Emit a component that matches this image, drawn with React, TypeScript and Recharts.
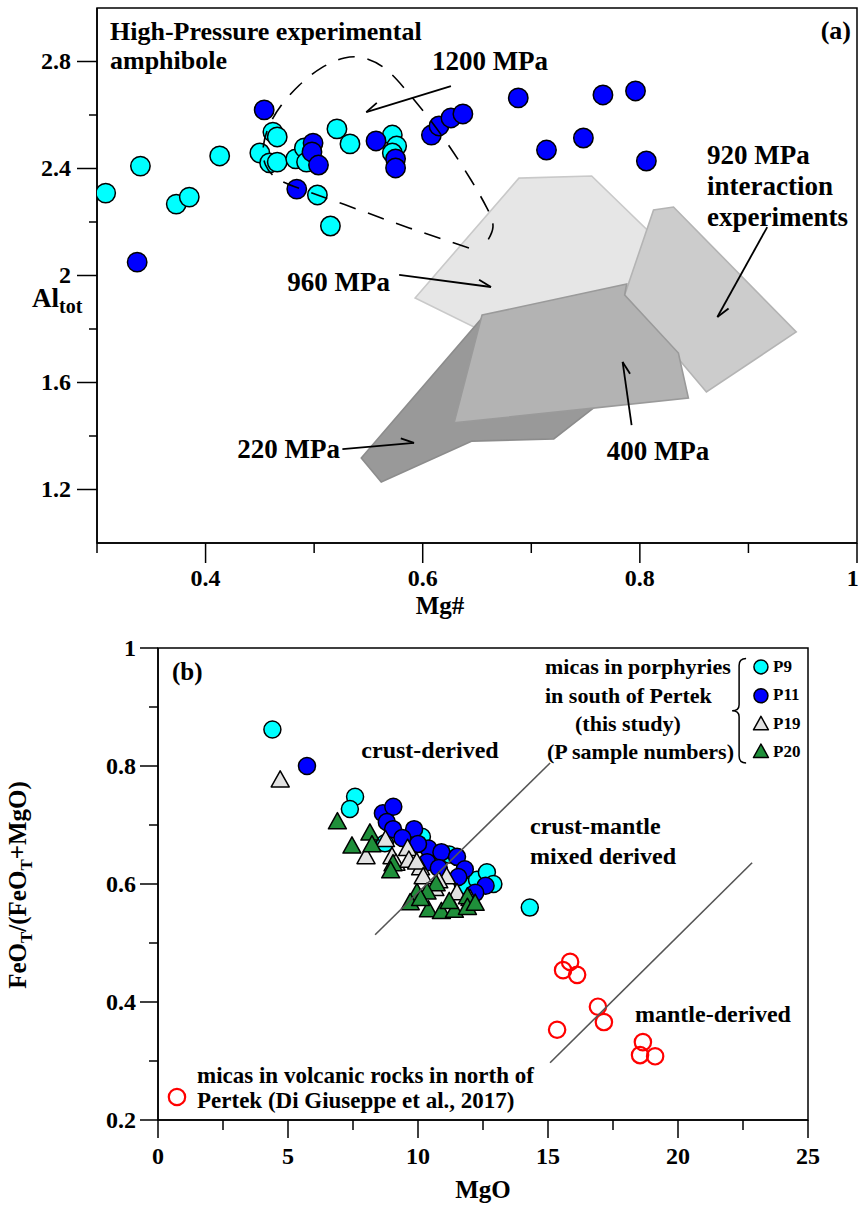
import React from 'react';
import { ScatterChart, Scatter, XAxis, YAxis, ReferenceArea } from 'recharts';

type Pair = [number, number];
const FONT = "'Liberation Serif', 'Times New Roman', serif";

// ---------------- Panel (a): Mg# vs Al_tot ----------------
const aCyan: Pair[] = [
  [0.308, 2.308], [0.340, 2.409], [0.373, 2.267], [0.385, 2.293], [0.413, 2.447],
  [0.450, 2.458], [0.462, 2.536], [0.466, 2.518], [0.459, 2.421], [0.466, 2.424],
  [0.483, 2.436], [0.491, 2.477], [0.493, 2.424], [0.503, 2.301], [0.515, 2.185],
  [0.521, 2.548], [0.533, 2.492], [0.572, 2.525], [0.576, 2.484], [0.572, 2.458],
];
const aBlue: Pair[] = [
  [0.337, 2.05], [0.454, 2.619], [0.484, 2.323], [0.499, 2.495], [0.498, 2.462],
  [0.504, 2.413], [0.557, 2.503], [0.575, 2.436], [0.575, 2.402], [0.608, 2.525],
  [0.615, 2.559], [0.626, 2.589], [0.637, 2.604], [0.688, 2.664], [0.714, 2.469],
  [0.748, 2.514], [0.766, 2.675], [0.796, 2.690], [0.806, 2.428],
];
const aField960: Pair[] = [[0.593, 1.916], [0.6886, 2.364], [0.7556, 2.372], [0.8447, 2.021], [0.762, 1.871], [0.649, 1.804]];
const aField220: Pair[] = [[0.5434, 1.318], [0.6546, 1.841], [0.762, 1.908], [0.7575, 1.505], [0.7207, 1.389], [0.6454, 1.381], [0.5618, 1.228]];
const aField400: Pair[] = [[0.6546, 1.852], [0.7878, 1.968], [0.786, 1.927], [0.8355, 1.710], [0.8447, 1.542], [0.6289, 1.449]];
const aField920: Pair[] = [[0.786, 1.927], [0.8126, 2.245], [0.831, 2.256], [0.944, 1.789], [0.8613, 1.5645]];
const aField1200: Pair[] = [
  [0.6426, 2.103], [0.5875, 2.178], [0.5416, 2.245], [0.4957, 2.312], [0.4681, 2.357],
  [0.4552, 2.413], [0.4534, 2.488], [0.4589, 2.563], [0.4699, 2.637], [0.4865, 2.712],
  [0.5067, 2.776], [0.5278, 2.813], [0.5462, 2.813], [0.5646, 2.776], [0.5829, 2.701],
  [0.6041, 2.596], [0.6243, 2.484], [0.6445, 2.357], [0.6592, 2.252], [0.6647, 2.181], [0.6583, 2.121],
];
const aArrow1200: Pair[] = [[0.626, 2.708], [0.548, 2.611]];
const aArrow960: Pair[] = [[0.5783, 2.002], [0.6629, 1.957]];
const aArrow220: Pair[] = [[0.526, 1.351], [0.592, 1.374]];
const aArrow400: Pair[] = [[0.7924, 1.441], [0.7841, 1.677]];
const aArrow920: Pair[] = [[0.9173, 2.181], [0.8714, 1.845]];
const aXTicks = [0.3, 0.4, 0.5, 0.6, 0.7, 0.8, 0.9, 1.0];
const aXMajor = [0.4, 0.6, 0.8, 1.0];
const aXMajorText = ['0.4', '0.6', '0.8', '1'];
const aYTicks = [1.2, 1.4, 1.6, 1.8, 2.0, 2.2, 2.4, 2.6, 2.8];
const aYMajor = [1.2, 1.6, 2.0, 2.4, 2.8];
const aYMajorText = ['1.2', '1.6', '2', '2.4', '2.8'];

// ---------------- Panel (b): MgO vs FeOT/(FeOT+MgO) ----------------
const bCyan: Pair[] = [
  [4.4, 0.862], [7.58, 0.748], [7.38, 0.727], [8.73, 0.669], [10.15, 0.680], [11.2, 0.650],
  [11.73, 0.598], [12.27, 0.607], [12.65, 0.620], [12.9, 0.600], [14.3, 0.560],
];
const bBlue: Pair[] = [
  [5.73, 0.800], [8.65, 0.720], [9.05, 0.731], [8.8, 0.705], [9.04, 0.693], [9.85, 0.693],
  [9.4, 0.678], [10.4, 0.660], [10.9, 0.654], [10.35, 0.637], [10.8, 0.627], [11.5, 0.646],
  [11.8, 0.625], [11.55, 0.612], [12.6, 0.597], [10.0, 0.668], [12.2, 0.585],
];
const bWhite: Pair[] = [
  [4.7, 0.776], [8.75, 0.675], [8.0, 0.646], [9.0, 0.646], [9.6, 0.660], [9.15, 0.635],
  [9.65, 0.640], [10.1, 0.627], [9.95, 0.637], [11.1, 0.612], [10.2, 0.612], [10.65, 0.592],
  [11.5, 0.585], [12.0, 0.575], [10.8, 0.605],
];
const bGreen: Pair[] = [
  [6.9, 0.705], [7.46, 0.664], [8.15, 0.686], [8.23, 0.666], [9.04, 0.634], [8.95, 0.622],
  [10.7, 0.600], [10.35, 0.586], [9.96, 0.585], [11.9, 0.578], [9.7, 0.568], [10.4, 0.556],
  [10.9, 0.553], [11.4, 0.555], [11.9, 0.560], [12.2, 0.567], [10.1, 0.575], [11.2, 0.570],
];
const bRed: Pair[] = [
  [15.58, 0.454], [15.85, 0.468], [16.12, 0.446], [16.92, 0.392], [17.15, 0.366],
  [15.35, 0.353], [18.65, 0.332], [18.54, 0.310], [19.12, 0.308],
];
const bLine1: Pair[] = [[8.35, 0.514], [15.08, 0.805]];
const bLine2: Pair[] = [[15.08, 0.297], [22.85, 0.636]];
const bXTicks = [0, 2.5, 5, 7.5, 10, 12.5, 15, 17.5, 20, 22.5, 25];
const bXMajor = [0, 5, 10, 15, 20, 25];
const bXMajorText = ['0', '5', '10', '15', '20', '25'];
const bYTicks = [0.2, 0.3, 0.4, 0.5, 0.6, 0.7, 0.8, 0.9, 1.0];
const bYMajor = [0.2, 0.4, 0.6, 0.8, 1.0];
const bYMajorText = ['0.2', '0.4', '0.6', '0.8', '1'];
// legend swatch anchor (in axis units)
const bLegendX = 23.19;
const bLegendRows = [0.968, 0.919, 0.871, 0.824];
const bLegendNames = ['P9', 'P11', 'P19', 'P20'];
const bRedLegend: Pair[] = [[0.73, 0.239]];
const bBrace: Pair[] = [[22.35, 0.982], [22.35, 0.805]];

const pts = (arr: Pair[]) => arr.map(([x, y]) => ({ x, y }));
const noShape = () => <g />;

const circle = (r: number, fill: string, stroke = '#000', sw = 1.5) => (p: any) => (
  <circle cx={p.cx} cy={p.cy} r={r} fill={fill} stroke={stroke} strokeWidth={sw} />
);
const tri = (w: number, fill: string) => (p: any) => {
  const h = w * 0.9;
  return (
    <polygon
      points={`${p.cx},${p.cy - h * 0.58} ${p.cx - w / 2},${p.cy + h * 0.42} ${p.cx + w / 2},${p.cy + h * 0.42}`}
      fill={fill} stroke="#000" strokeWidth={1.5} strokeLinejoin="round"
    />
  );
};

const polygonLine = (fill: string, stroke: string) => (p: any) => {
  const q = p.points as { x: number; y: number }[];
  const d = q.map((v, i) => `${i ? 'L' : 'M'}${v.x},${v.y}`).join(' ') + ' Z';
  return <path d={d} fill={fill} stroke={stroke} strokeWidth={1.6} />;
};

const arrowLine = (side: number) => (p: any) => {
  const [a, b] = p.points as { x: number; y: number }[];
  const dx = b.x - a.x, dy = b.y - a.y;
  const L = Math.hypot(dx, dy) || 1;
  const bx = -dx / L, by = -dy / L;
  const ang = side * 0.42;
  const rx = bx * Math.cos(ang) - by * Math.sin(ang);
  const ry = bx * Math.sin(ang) + by * Math.cos(ang);
  const h = 14;
  return (
    <g>
      <line x1={a.x} y1={a.y} x2={b.x} y2={b.y} stroke="#000" strokeWidth={1.8} />
      <line x1={b.x} y1={b.y} x2={b.x + rx * h} y2={b.y + ry * h} stroke="#000" strokeWidth={1.8} />
    </g>
  );
};

const braceLine = (p: any) => {
  const [a, b] = p.points as { x: number; y: number }[];
  const x = a.x;
  const t = a.y, bt = b.y, m = (t + bt) / 2;
  const d = `M${x + 7},${t} Q${x},${t} ${x},${t + 7} L${x},${m - 6} Q${x},${m} ${x - 7},${m} Q${x},${m} ${x},${m + 6} L${x},${bt - 7} Q${x},${bt} ${x + 7},${bt}`;
  return <path d={d} fill="none" stroke="#000" strokeWidth={1.5} />;
};

const isIn = (arr: number[], v: number) => arr.findIndex((m) => Math.abs(m - v) < 1e-6);

const XTick = (major: number[], texts: string[], fs: number, off: number, lenMaj: number, lenMin: number) => (props: any) => {
  const { x, y, payload } = props;
  const i = isIn(major, payload.value);
  const len = i >= 0 ? lenMaj : lenMin;
  const tx = Math.min(x, 860 - fs * 0.3);
  return (
    <g>
      <line x1={x} y1={y} x2={x} y2={y + len} stroke="#000" strokeWidth={1.5} />
      {i >= 0 && (
        <text x={tx} y={y + off} textAnchor="middle" fontFamily={FONT} fontWeight="bold" fontSize={fs} fill="#000">
          {texts[i]}
        </text>
      )}
    </g>
  );
};

const YTick = (major: number[], texts: string[], fs: number, gap: number, lenMaj: number, lenMin: number) => (props: any) => {
  const { x, y, payload } = props;
  const i = isIn(major, payload.value);
  const len = i >= 0 ? lenMaj : lenMin;
  return (
    <g>
      <line x1={x - len} y1={y} x2={x} y2={y} stroke="#000" strokeWidth={1.5} />
      {i >= 0 && (
        <text x={x - gap} y={y + fs * 0.33} textAnchor="end" fontFamily={FONT} fontWeight="bold" fontSize={fs} fill="#000">
          {texts[i]}
        </text>
      )}
    </g>
  );
};

const T = ({ x, y, size = 24, anchor = 'left', children }: any) => (
  <div
    style={{
      position: 'absolute', left: x, top: y - size * 0.6, fontFamily: FONT, fontWeight: 'bold',
      fontSize: size, lineHeight: `${size * 1.2}px`, whiteSpace: 'nowrap', color: '#000',
      transform: anchor === 'center' ? 'translateX(-50%)' : anchor === 'right' ? 'translateX(-100%)' : undefined,
    }}
  >
    {children}
  </div>
);

function PanelA() {
  return (
    <ScatterChart width={860} height={600} margin={{ top: 8, right: 3, bottom: 17, left: 37 }}>
      <XAxis type="number" dataKey="x" domain={[0.3, 1]} ticks={aXTicks} interval={0} tickSize={0} tickMargin={0}
        tick={XTick(aXMajor, aXMajorText, 24, 43, 20, 10)} axisLine={{ stroke: '#000', strokeWidth: 1.5 }} height={40} allowDataOverflow />
      <YAxis type="number" dataKey="y" domain={[1, 3]} ticks={aYTicks} interval={0} tickSize={0} tickMargin={0}
        tick={YTick(aYMajor, aYMajorText, 24, 26, 20, 8)} axisLine={{ stroke: '#000', strokeWidth: 1.5 }} width={60} allowDataOverflow />
      <Scatter data={pts(aField960)} shape={noShape} line={polygonLine('#e6e6e6', '#c9c9c9')} isAnimationActive={false} />
      <Scatter data={pts(aField920)} shape={noShape} line={polygonLine('#cccccc', '#b4b4b4')} isAnimationActive={false} />
      <Scatter data={pts(aField220)} shape={noShape} line={polygonLine('#999999', '#8c8c8c')} isAnimationActive={false} />
      <Scatter data={pts(aField400)} shape={noShape} line={polygonLine('#b3b3b3', '#9a9a9a')} isAnimationActive={false} />
      <Scatter data={pts(aCyan)} shape={circle(9.7, '#00ffff')} isAnimationActive={false} />
      <Scatter data={pts(aBlue)} shape={circle(9.7, '#0000ff')} isAnimationActive={false} />
      <Scatter data={pts(aField1200)} shape={noShape} lineJointType="natural"
        line={{ stroke: '#000', strokeWidth: 1.6, strokeDasharray: '17 13', fill: 'none' }} isAnimationActive={false} />
      <Scatter data={pts(aArrow1200)} shape={noShape} line={arrowLine(-1)} isAnimationActive={false} />
      <Scatter data={pts(aArrow960)} shape={noShape} line={arrowLine(1)} isAnimationActive={false} />
      <Scatter data={pts(aArrow220)} shape={noShape} line={arrowLine(1)} isAnimationActive={false} />
      <Scatter data={pts(aArrow400)} shape={noShape} line={arrowLine(-1)} isAnimationActive={false} />
      <Scatter data={pts(aArrow920)} shape={noShape} line={arrowLine(1)} isAnimationActive={false} />
      <ReferenceArea x1={0.3} x2={1} y1={1} y2={3} fill="none" stroke="#000" strokeWidth={1.5} />
    </ScatterChart>
  );
}

function PanelB() {
  return (
    <ScatterChart width={860} height={605} margin={{ top: 48, right: 52, bottom: 40, left: 98 }}>
      <XAxis type="number" dataKey="x" domain={[0, 25]} ticks={bXTicks} interval={0} tickSize={0} tickMargin={0}
        tick={XTick(bXMajor, bXMajorText, 24, 44, 18, 10)} axisLine={{ stroke: '#000', strokeWidth: 1.5 }} height={45} allowDataOverflow />
      <YAxis type="number" dataKey="y" domain={[0.2, 1]} ticks={bYTicks} interval={0} tickSize={0} tickMargin={0}
        tick={YTick(bYMajor, bYMajorText, 24, 22, 18, 9)} axisLine={{ stroke: '#000', strokeWidth: 1.5 }} width={60} allowDataOverflow />
      <Scatter data={pts(bCyan)} shape={circle(8.5, '#00ffff')} isAnimationActive={false} />
      <Scatter data={pts(bBlue)} shape={circle(8.5, '#0000ff')} isAnimationActive={false} />
      <Scatter data={pts(bWhite)} shape={tri(18, '#e2e2e2')} isAnimationActive={false} />
      <Scatter data={pts(bGreen)} shape={tri(18, '#1f8f3a')} isAnimationActive={false} />
      <Scatter data={pts(bRed)} shape={circle(8.2, 'none', '#ff0000', 2.2)} isAnimationActive={false} />
      <Scatter data={pts(bRedLegend)} shape={circle(8.2, 'none', '#ff0000', 2.2)} isAnimationActive={false} />
      <Scatter data={pts(bLine1)} shape={noShape} line={{ stroke: '#555', strokeWidth: 1.6 }} isAnimationActive={false} />
      <Scatter data={pts(bLine2)} shape={noShape} line={{ stroke: '#555', strokeWidth: 1.6 }} isAnimationActive={false} />
      <Scatter data={[{ x: bLegendX, y: bLegendRows[0] }]} shape={circle(7, '#00ffff')} isAnimationActive={false} />
      <Scatter data={[{ x: bLegendX, y: bLegendRows[1] }]} shape={circle(7, '#0000ff')} isAnimationActive={false} />
      <Scatter data={[{ x: bLegendX, y: bLegendRows[2] }]} shape={tri(15, '#e2e2e2')} isAnimationActive={false} />
      <Scatter data={[{ x: bLegendX, y: bLegendRows[3] }]} shape={tri(15, '#1f8f3a')} isAnimationActive={false} />
      <Scatter data={pts(bBrace)} shape={noShape} line={braceLine} isAnimationActive={false} />
      <ReferenceArea x1={0} x2={25} y1={0.2} y2={1} fill="none" stroke="#000" strokeWidth={1.5} />
    </ScatterChart>
  );
}

export default function App() {
  return (
    <div style={{ position: 'absolute', left: 0, top: 0, width: 860, height: 1205, background: '#fff', overflow: 'hidden' }}>
      <div style={{ position: 'absolute', left: 0, top: 0 }}><PanelA /></div>
      <div style={{ position: 'absolute', left: 0, top: 600 }}><PanelB /></div>

      {/* Panel (a) texts */}
      <T x={110} y={32} size={26}>High-Pressure experimental</T>
      <T x={110} y={61} size={26}>amphibole</T>
      <T x={851} y={31} size={26} anchor="right">(a)</T>
      <T x={490} y={61} size={27} anchor="center">1200 MPa</T>
      <T x={390} y={282} size={27} anchor="right">960 MPa</T>
      <T x={340} y={449} size={27} anchor="right">220 MPa</T>
      <T x={658} y={451} size={27} anchor="center">400 MPa</T>
      <T x={707} y={155} size={27}>920 MPa</T>
      <T x={707} y={186} size={27}>interaction</T>
      <T x={707} y={217} size={27}>experiments</T>
      <div style={{ position: 'absolute', left: 32, top: 282, fontFamily: FONT, fontWeight: 'bold', fontSize: 27, lineHeight: '32px', whiteSpace: 'nowrap' }}>
        Al<sub style={{ fontSize: 20 }}>tot</sub>
      </div>
      <T x={440} y={606} size={25} anchor="center">Mg#</T>

      {/* Panel (b) texts */}
      <T x={172} y={672} size={25}>(b)</T>
      <T x={430} y={750} size={24} anchor="center">crust-derived</T>
      <T x={530} y={826} size={24}>crust-mantle</T>
      <T x={530} y={856} size={24}>mixed derived</T>
      <T x={635} y={1014} size={24}>mantle-derived</T>
      <T x={545} y={667} size={22}>micas in porphyries</T>
      <T x={545} y={696} size={22}>in south of Pertek</T>
      <T x={575} y={724} size={22}>(this study)</T>
      <T x={547} y={752} size={22}>(P sample numbers)</T>
      {bLegendNames.map((n, i) => (
        <T key={n} x={773} y={667 + i * 28.5} size={17}>{n}</T>
      ))}
      <T x={197} y={1076} size={23}>micas in volcanic rocks in north of</T>
      <T x={197} y={1101} size={23}>Pertek (Di Giuseppe et al., 2017)</T>
      <div style={{ position: 'absolute', left: 22, top: 885, width: 0, height: 0 }}>
        <div style={{ position: 'absolute', left: 0, top: 0, transform: 'translate(-50%, -50%) rotate(-90deg)', fontFamily: FONT, fontWeight: 'bold', fontSize: 25, whiteSpace: 'nowrap', lineHeight: '30px' }}>
          FeO<sub style={{ fontSize: 17 }}>T</sub>/(FeO<sub style={{ fontSize: 17 }}>T</sub>+MgO)
        </div>
      </div>
      <T x={483} y={1190} size={25} anchor="center">MgO</T>
    </div>
  );
}
